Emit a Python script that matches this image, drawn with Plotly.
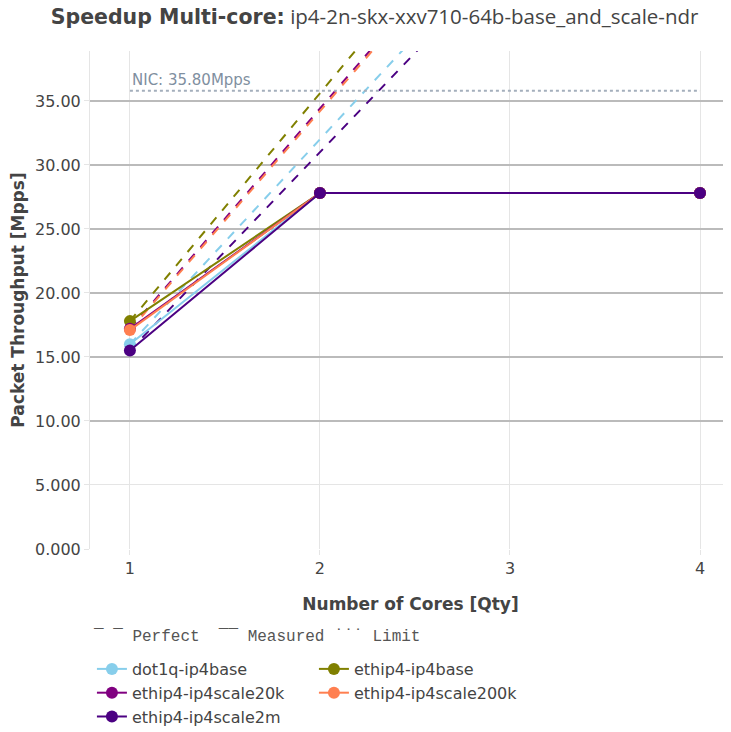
import plotly.graph_objects as go

cores = [1, 2, 4]
tests = ["dot1q-ip4base", "ethip4-ip4base", "ethip4-ip4scale20k",
         "ethip4-ip4scale200k", "ethip4-ip4scale2m"]
colors = ["skyblue", "olive", "purple", "coral", "indigo"]
measured = {
    "dot1q-ip4base": [16.0, 27.8, 27.8],
    "ethip4-ip4base": [17.8, 27.8, 27.8],
    "ethip4-ip4scale20k": [17.2, 27.8, 27.8],
    "ethip4-ip4scale200k": [17.1, 27.8, 27.8],
    "ethip4-ip4scale2m": [15.5, 27.8, 27.8],
}
nic_limit = 35.8
nic_x = [1, 4]

FONT = "DejaVu Sans, sans-serif"
fig = go.Figure()

# Perfect scaling lines
for name, col in zip(tests, colors):
    base = measured[name][0]
    fig.add_trace(go.Scatter(
        x=cores, y=[base * c for c in cores], mode="lines",
        line=dict(color=col, width=2, dash="dash"),
        showlegend=False, hoverinfo="skip"))

# NIC limit
fig.add_trace(go.Scatter(
    x=nic_x, y=[nic_limit] * len(nic_x), mode="lines",
    line=dict(color="#a4afbc", width=2, dash="dot"),
    showlegend=False, hoverinfo="skip"))

# Measured
for name, col in zip(tests, colors):
    fig.add_trace(go.Scatter(
        x=cores, y=measured[name], mode="lines+markers", name=name,
        line=dict(color=col, width=2),
        marker=dict(color=col, size=12)))

fig.add_annotation(
    x=1, y=nic_limit, xref="x", yref="y", text=f"NIC: {nic_limit:.2f}Mpps",
    showarrow=False, xanchor="left", yanchor="bottom", yshift=0,
    font=dict(family=FONT, size=15, color="#7f8fa0"))

# line-style key above the legend
fig.add_annotation(
    x=0, y=-0.1767, xref="paper", yref="paper", xanchor="left", yanchor="middle",
    xshift=1, showarrow=False,
    text="‾ ‾ Perfect  ‾‾ Measured ˙˙˙ Limit",
    font=dict(family="Courier New, Liberation Mono, monospace", size=16,
              color="#555"))

title_text = ("<span style='font-family:DejaVu Sans'><b>Speedup Multi-core:</b></span>"
              " ip4-2n-skx-xxv710-64b-base_and_scale-ndr")

fig.update_layout(
    width=723, height=724,
    margin=dict(l=82, r=0, t=43, b=183, autoexpand=False),
    plot_bgcolor="white", paper_bgcolor="white",
    font=dict(family=FONT, size=16, color="#444"),
    title=dict(
        text=title_text,
        x=0.507, xanchor="center", y=0.9875, yanchor="middle",
        font=dict(family="Open Sans, sans-serif", size=20.5, color="#444")),
    xaxis=dict(
        range=[0.79, 4.163], tickvals=[1, 2, 3, 4],
        showgrid=True, gridcolor="#e5e5e5", gridwidth=1,
        zeroline=False, showline=False,
        ticks="outside", ticklen=5, tickcolor="#e5e5e5",
        title=dict(text="<b>Number of Cores [Qty]</b>",
                   font=dict(family=FONT, size=17, color="#444"), standoff=20),
        tickfont=dict(family=FONT, size=16, color="#444")),
    yaxis=dict(
        range=[0, 38.9], dtick=5, tickformat=".4r",
        showgrid=True, gridcolor="#e5e5e5", gridwidth=1,
        zeroline=False, showline=True, linecolor="#e5e5e5", linewidth=1,
        ticks="outside", ticklen=5, tickcolor="#e5e5e5",
        title=dict(text="<b>Packet Throughput [Mpps]</b>",
                   font=dict(family=FONT, size=17, color="#444")),
        tickfont=dict(family=FONT, size=16, color="#444")),
    yaxis2=dict(
        overlaying="y", range=[0, 38.9], tickvals=[10, 15, 20, 25, 30, 35],
        showticklabels=False, showgrid=True, gridcolor="#bbbbbb", gridwidth=2,
        zeroline=False, showline=False, ticks=""),
    legend=dict(
        orientation="h", x=0.003, xanchor="left", y=-0.2068, yanchor="top",
        entrywidth=177, entrywidthmode="pixels",
        font=dict(family=FONT, size=16, color="#444")),
)

# dummy trace to anchor yaxis2 grid
fig.add_trace(go.Scatter(x=[None], y=[None], yaxis="y2", showlegend=False,
                         hoverinfo="skip"))

fig.write_html("out.html")
